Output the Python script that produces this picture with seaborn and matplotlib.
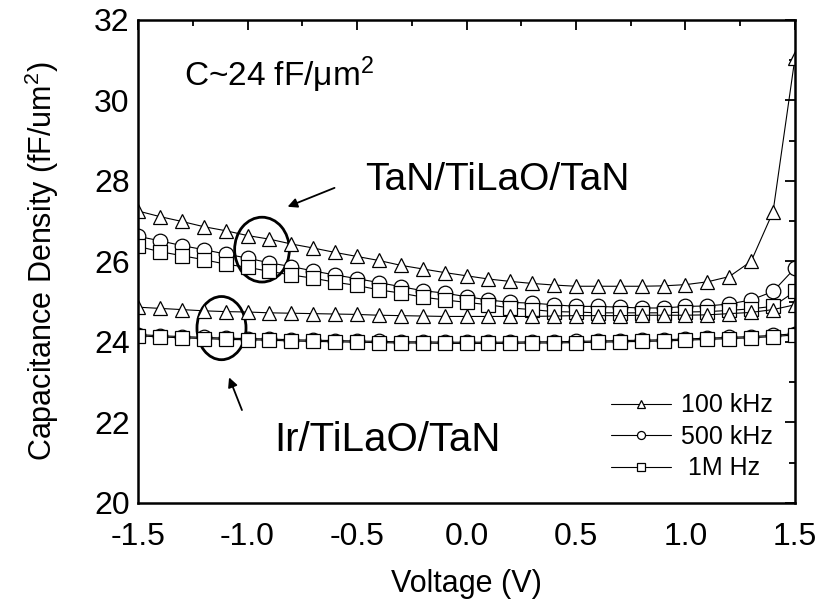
import numpy as np
import pandas as pd
import matplotlib
matplotlib.use("Agg")
import matplotlib.pyplot as plt
from matplotlib.patches import Ellipse
import seaborn as sns

# bias voltage (V), 0.1 V steps
voltage = np.round(np.arange(-1.5, 1.51, 0.1), 1)

# TaN/TiLaO/TaN
tan_100k = [27.25, 27.11, 26.99, 26.86, 26.76, 26.64, 26.55, 26.43, 26.33, 26.22,
            26.12, 26.02, 25.90, 25.81, 25.72, 25.64, 25.56, 25.50, 25.45, 25.41,
            25.38, 25.38, 25.38, 25.38, 25.39, 25.42, 25.49, 25.62, 26.00, 27.23, 31.05]
tan_500k = [26.62, 26.51, 26.39, 26.29, 26.18, 26.08, 25.96, 25.87, 25.76, 25.66,
            25.57, 25.47, 25.37, 25.27, 25.21, 25.12, 25.04, 24.98, 24.96, 24.92,
            24.88, 24.88, 24.86, 24.84, 24.84, 24.88, 24.89, 24.94, 25.04, 25.25, 25.83]
tan_1m = [26.37, 26.24, 26.14, 26.04, 25.93, 25.85, 25.75, 25.66, 25.58, 25.48,
          25.40, 25.29, 25.21, 25.11, 25.04, 24.98, 24.92, 24.84, 24.80, 24.75,
          24.74, 24.72, 24.72, 24.72, 24.72, 24.74, 24.75, 24.78, 24.82, 24.88, 25.25]

# Ir/TiLaO/TaN
ir_100k = [24.86, 24.83, 24.80, 24.77, 24.75, 24.74, 24.72, 24.71, 24.70, 24.69,
           24.68, 24.66, 24.65, 24.64, 24.63, 24.63, 24.63, 24.63, 24.63, 24.64,
           24.65, 24.65, 24.65, 24.66, 24.66, 24.66, 24.67, 24.70, 24.73, 24.80, 24.92]
ir_500k = [24.18, 24.15, 24.13, 24.11, 24.09, 24.08, 24.07, 24.05, 24.04, 24.03,
           24.02, 24.01, 24.00, 24.00, 23.99, 23.99, 23.99, 23.99, 24.00, 24.00,
           24.01, 24.02, 24.03, 24.04, 24.05, 24.07, 24.09, 24.11, 24.13, 24.16, 24.20]
ir_1m = [24.15, 24.12, 24.10, 24.08, 24.06, 24.05, 24.04, 24.02, 24.01, 24.00,
         23.99, 23.98, 23.97, 23.97, 23.96, 23.96, 23.96, 23.96, 23.97, 23.97,
         23.98, 23.99, 24.00, 24.01, 24.02, 24.04, 24.06, 24.08, 24.10, 24.13, 24.17]

freq_labels = ["100 kHz", "500 kHz", " 1M Hz"]
freq_markers = ["^", "o", "s"]

sns.set_theme(style="white")
plt.rcParams["font.family"] = ["Liberation Sans", "DejaVu Sans"]
plt.rcParams["mathtext.fontset"] = "custom"
plt.rcParams["mathtext.rm"] = "Liberation Sans"
plt.rcParams["mathtext.it"] = "Liberation Sans"
plt.rcParams["text.color"] = "black"
plt.rcParams["axes.labelcolor"] = "black"

fig = plt.figure(figsize=(8.17, 6.0), dpi=100)
ax = fig.add_axes([0.169, 0.162, 0.804, 0.805])

style = dict(color="black", linewidth=0.8, markersize=10.5, markerfacecolor="white",
             markeredgecolor="black", markeredgewidth=0.9)

for ys, mk, lab in zip([tan_100k, tan_500k, tan_1m], freq_markers, freq_labels):
    sns.lineplot(x=voltage, y=ys, marker=mk, label=lab, ax=ax, **style)
for ys, mk in zip([ir_100k, ir_500k, ir_1m], freq_markers):
    sns.lineplot(x=voltage, y=ys, marker=mk, ax=ax, legend=False, **style)

ax.set_xlim(-1.5, 1.5)
ax.set_ylim(20, 32)
ax.set_xticks(np.arange(-1.5, 1.51, 0.5))
ax.set_yticks(np.arange(20, 33, 2))
ax.set_xticks(np.arange(-1.5, 1.51, 0.25), minor=True)
ax.set_yticks(np.arange(20, 33, 1), minor=True)
ax.set_xticklabels(["-1.5", "-1.0", "-0.5", "0.0", "0.5", "1.0", "1.5"])
ax.tick_params(which="both", direction="in", top=True, right=True, colors="black",
               labelsize=23, width=1.3)
ax.tick_params(which="major", length=7)
ax.tick_params(which="minor", length=4)
ax.tick_params(axis="x", which="major", pad=14)
ax.tick_params(axis="y", which="major", pad=6)
for sp in ax.spines.values():
    sp.set_color("black")
    sp.set_linewidth(1.8)

ax.set_xlabel("Voltage (V)", fontsize=22, labelpad=12)
ax.set_ylabel("Capacitance Density (fF/um$^2$)", fontsize=22, labelpad=24)

ax.text(-1.29, 30.63, r"C~24 fF/$\mu$m$^2$", fontsize=24, va="center", ha="left")
ax.text(0.14, 28.03, "TaN/TiLaO/TaN", fontsize=28, va="center", ha="center")
ax.text(-0.36, 21.57, "Ir/TiLaO/TaN", fontsize=29, va="center", ha="center")

ax.add_patch(Ellipse((-0.934, 26.29), 0.25, 1.61, fill=False, edgecolor="black", linewidth=2))
ax.add_patch(Ellipse((-1.119, 24.34), 0.224, 1.57, fill=False, edgecolor="black", linewidth=2))

arrow = dict(arrowstyle="-|>", color="black", linewidth=1.3, mutation_scale=14)
ax.annotate("", xy=(-0.829, 27.33), xytext=(-0.591, 27.85), arrowprops=arrow)
ax.annotate("", xy=(-1.089, 23.18), xytext=(-1.021, 22.24), arrowprops=arrow)

leg = ax.legend(loc="lower right", frameon=False, fontsize=18, markerscale=0.55,
                handlelength=2.4, labelspacing=0.3, borderaxespad=0.5, handletextpad=0.4)

fig.savefig("out.png", dpi=100)
